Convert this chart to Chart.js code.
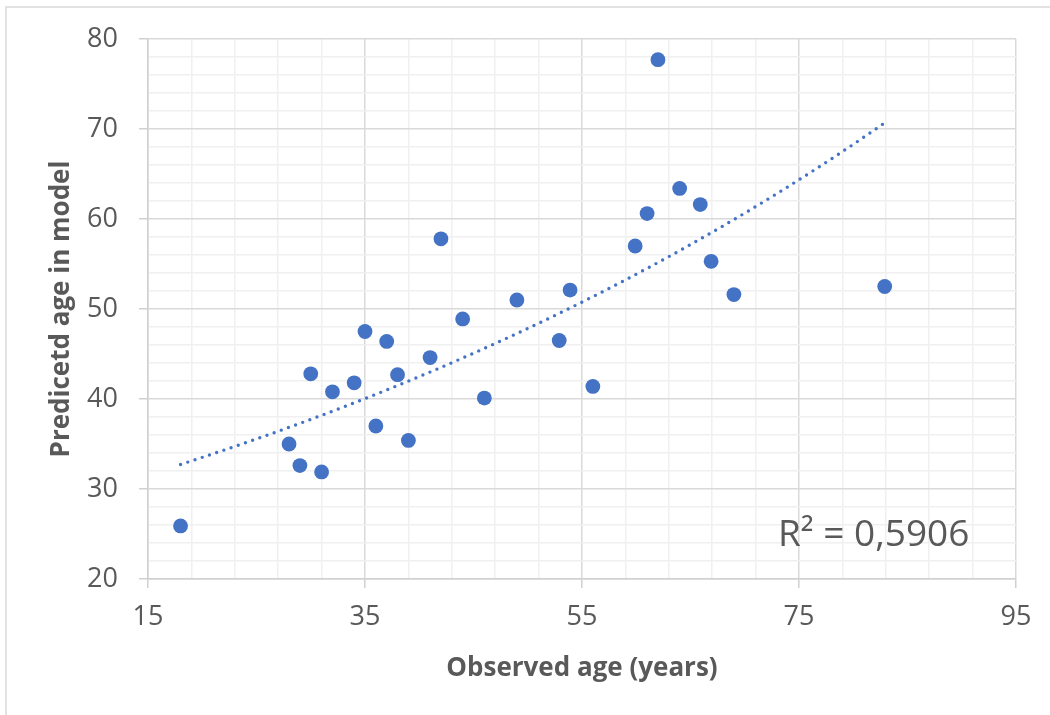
<!DOCTYPE html>
<html>
<head>
<meta charset="utf-8">
<script src="https://cdn.jsdelivr.net/npm/chart.js@4.4.1/dist/chart.umd.min.js"></script>
<style>
  html, body {
    margin: 0;
    padding: 0;
    background: #fff;
  }
  .chart-size {
    position: relative;
    width: 1050px;
    height: 715px;
  }
</style>
</head>
<body>
<div class="chart-size"><canvas id="chart" width="1050" height="715"></canvas></div>
<script>
// values
const observedAge = [18, 28, 29, 31, 30, 32, 34, 35, 36, 37, 38, 39, 41, 42, 44, 46, 49, 52.9, 53.9, 56, 59.9, 61, 62, 64, 65.9, 66.9, 69, 82.9];
const predictedAge = [25.9, 35.0, 32.6, 31.9, 42.8, 40.8, 41.8, 47.5, 37.0, 46.4, 42.7, 35.4, 44.6, 57.8, 48.9, 40.1, 51.0, 46.5, 52.1, 41.4, 57.0, 60.6, 77.7, 63.4, 61.6, 55.3, 51.6, 52.5];
const xTicks = [15, 35, 55, 75, 95];
const yTicks = [20, 30, 40, 50, 60, 70, 80];
const rSquaredLabel = "R² = 0,5906";

const blue = "#4472C4";
const grey = "#595959";
const font = "'Open Sans', sans-serif";

// exponential trendline, least squares on ln(y) like Excel does
function expTrend(xs, ys) {
  const n = xs.length;
  let sx = 0, sy = 0, sxx = 0, sxy = 0;
  xs.forEach((x, i) => {
    const ly = Math.log(ys[i]);
    sx += x; sy += ly; sxx += x * x; sxy += x * ly;
  });
  const b = (n * sxy - sx * sy) / (n * sxx - sx * sx);
  const a = Math.exp((sy - b * sx) / n);
  const lo = Math.min(...xs), hi = Math.max(...xs);
  const pts = [];
  for (let i = 0; i <= 60; i++) {
    const x = lo + (hi - lo) * i / 60;
    pts.push({ x, y: a * Math.exp(b * x) });
  }
  return pts;
}

const points = observedAge.map((x, i) => ({ x, y: predictedAge[i] }));
const trend = expTrend(observedAge, predictedAge);

const isMajorX = v => xTicks.includes(Math.round(v));
const isMajorY = v => yTicks.includes(Math.round(v));

const extras = {
  id: "extras",
  beforeDraw(chart) {
    const ctx = chart.ctx;
    ctx.save();
    ctx.strokeStyle = "#d9d9d9";
    ctx.lineWidth = 1.5;
    ctx.strokeRect(6, 7, 1200, 900);
    ctx.restore();
  },
  afterDraw(chart) {
    const { ctx, chartArea } = chart;
    ctx.save();
    ctx.fillStyle = grey;
    ctx.font = "37px " + font;
    ctx.textBaseline = "alphabetic";
    ctx.fillText(rSquaredLabel, chartArea.right - 238, chartArea.bottom - 33);
    ctx.restore();
  }
};

new Chart(document.getElementById("chart"), {
  type: "scatter",
  data: {
    datasets: [
      {
        label: "Predicted age",
        data: points,
        backgroundColor: blue,
        borderWidth: 0,
        pointRadius: 7.4,
        pointHoverRadius: 7.4
      },
      {
        label: "Trend",
        type: "line",
        data: trend,
        borderColor: blue,
        borderWidth: 3.4,
        borderDash: [0, 7.6],
        borderCapStyle: "round",
        pointRadius: 0,
        fill: false,
        tension: 0
      }
    ]
  },
  options: {
    responsive: false,
    animation: false,
    devicePixelRatio: 1,
    layout: { padding: { top: 39, right: 34, left: 0, bottom: 0 } },
    plugins: {
      legend: { display: false },
      tooltip: { enabled: false }
    },
    scales: {
      x: {
        type: "linear",
        min: 15,
        max: 95,
        afterFit(scale) { scale.height = 136; },
        border: { color: "#d0d0d0", width: 1.5 },
        grid: {
          color: c => isMajorX(c.tick.value) ? "#d9d9d9" : "#f0f0f0",
          lineWidth: 1.5,
          tickLength: 9,
          tickColor: c => isMajorX(c.tick.value) ? "#d0d0d0" : "rgba(0,0,0,0)"
        },
        ticks: {
          stepSize: 4,
          autoSkip: false,
          maxRotation: 0,
          padding: 13,
          color: grey,
          font: { family: font, size: 27 },
          callback: v => isMajorX(v) ? String(Math.round(v)) : ""
        },
        title: {
          display: true,
          text: "Observed age (years)",
          color: grey,
          font: { family: font, size: 26, weight: "bold" },
          padding: { top: 0, bottom: 31 }
        }
      },
      y: {
        type: "linear",
        min: 20,
        max: 80,
        afterFit(scale) { scale.width = 148; },
        border: { color: "#d0d0d0", width: 1.5 },
        grid: {
          color: c => isMajorY(c.tick.value) ? "#d9d9d9" : "#f0f0f0",
          lineWidth: 1.5,
          tickLength: 9,
          tickColor: c => isMajorY(c.tick.value) ? "#d0d0d0" : "rgba(0,0,0,0)"
        },
        ticks: {
          stepSize: 2,
          autoSkip: false,
          padding: 21,
          color: grey,
          font: { family: font, size: 27 },
          callback: v => isMajorY(v) ? String(Math.round(v)) : ""
        },
        title: {
          display: true,
          text: "Predicetd age in model",
          color: grey,
          font: { family: font, size: 26, weight: "bold" },
          padding: { top: 46, bottom: 0 }
        }
      }
    }
  },
  plugins: [extras]
});
</script>
</body>
</html>
